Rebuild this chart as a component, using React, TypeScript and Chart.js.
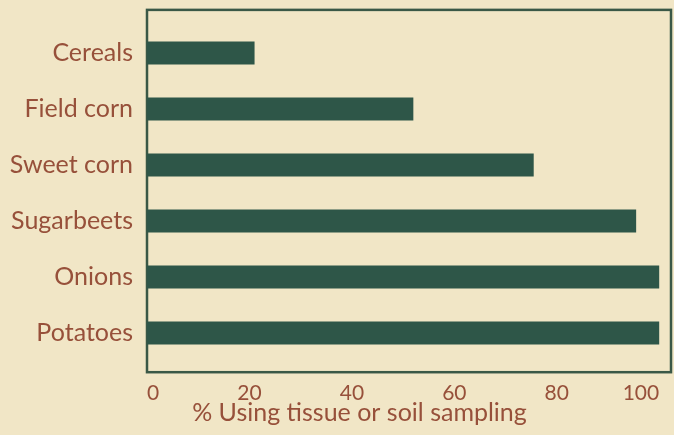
import React, { useEffect, useRef } from "react";
import { Chart, registerables } from "chart.js";

Chart.register(...registerables);

const categories = ["Cereals", "Field corn", "Sweet corn", "Sugarbeets", "Onions", "Potatoes"];
const values = [21, 52, 75.5, 95.5, 100, 100];
const xTicks = [0, 20, 40, 60, 80, 100];
const xTitle = "% Using tissue or soil sampling";

const BG = "#f1e6c6";
const BAR = "#2e5648";
const TEXT = "#97503a";
const FRAME = "#3a5846";
const FONT = "Lato, 'Open Sans', sans-serif";

export default function App() {
  const ref = useRef<HTMLCanvasElement | null>(null);

  useEffect(() => {
    const canvas = ref.current;
    if (!canvas) return;

    const bgPlugin = {
      id: "bg",
      beforeDraw(chart: any) {
        const ctx = chart.ctx;
        ctx.save();
        ctx.fillStyle = BG;
        ctx.fillRect(0, 0, chart.width, chart.height);
        ctx.restore();
      },
    };

    const framePlugin = {
      id: "frame",
      beforeDatasetsDraw(chart: any) {
        const { ctx, chartArea } = chart;
        const spacing = (chartArea.bottom - chartArea.top) / categories.length;
        const top = chartArea.top - 0.27 * spacing;
        const bottom = chartArea.bottom + 0.2 * spacing;
        ctx.save();
        ctx.strokeStyle = FRAME;
        ctx.lineWidth = 2.5;
        ctx.strokeRect(chartArea.left, top, chartArea.right - chartArea.left - 1, bottom - top);
        ctx.restore();
      },
      afterDraw(chart: any) {
        const { ctx, chartArea } = chart;
        ctx.save();
        ctx.fillStyle = TEXT;
        ctx.font = `25px ${FONT}`;
        ctx.textAlign = "center";
        ctx.textBaseline = "alphabetic";
        const cx = (chartArea.left + chartArea.right) / 2 - 50;
        ctx.fillText(xTitle, cx, chartArea.bottom + 60);
        ctx.restore();
      },
    };

    const chart = new Chart(canvas, {
      type: "bar",
      data: {
        labels: categories,
        datasets: [
          {
            data: values,
            backgroundColor: BAR,
            borderWidth: 0,
            categoryPercentage: 1,
            barPercentage: 0.41,
          },
        ],
      },
      options: {
        indexAxis: "y",
        responsive: false,
        animation: false,
        devicePixelRatio: 1,
        layout: { padding: { top: 25, right: 2, left: 0, bottom: 0 } },
        plugins: {
          legend: { display: false },
          tooltip: { enabled: false },
          title: { display: false },
        },
        scales: {
          x: {
            type: "linear",
            min: 0,
            max: 102.5,
            afterBuildTicks: (s: any) => {
              s.ticks = xTicks.map((v) => ({ value: v }));
            },
            afterFit: (s: any) => {
              s.height = 74;
              s.paddingLeft = 0;
              s.paddingRight = 0;
            },
            grid: { display: false, drawTicks: false },
            border: { display: false },
            ticks: {
              color: TEXT,
              font: { family: FONT, size: 21 },
              padding: 20,
              maxRotation: 0,
              align: "inner",
            },
          },
          y: {
            type: "category",
            afterFit: (s: any) => {
              s.width = 147;
              s.paddingTop = 0;
              s.paddingBottom = 0;
            },
            grid: { display: false, drawTicks: false },
            border: { display: false },
            ticks: {
              color: TEXT,
              font: { family: FONT, size: 25 },
              padding: 14,
            },
          },
        },
      },
      plugins: [bgPlugin, framePlugin],
    });

    return () => chart.destroy();
  }, []);

  return (
    <div style={{ position: "fixed", left: 0, top: 0, width: 674, height: 435, background: BG }}>
      <canvas ref={ref} width={674} height={435} style={{ display: "block" }} />
    </div>
  );
}
